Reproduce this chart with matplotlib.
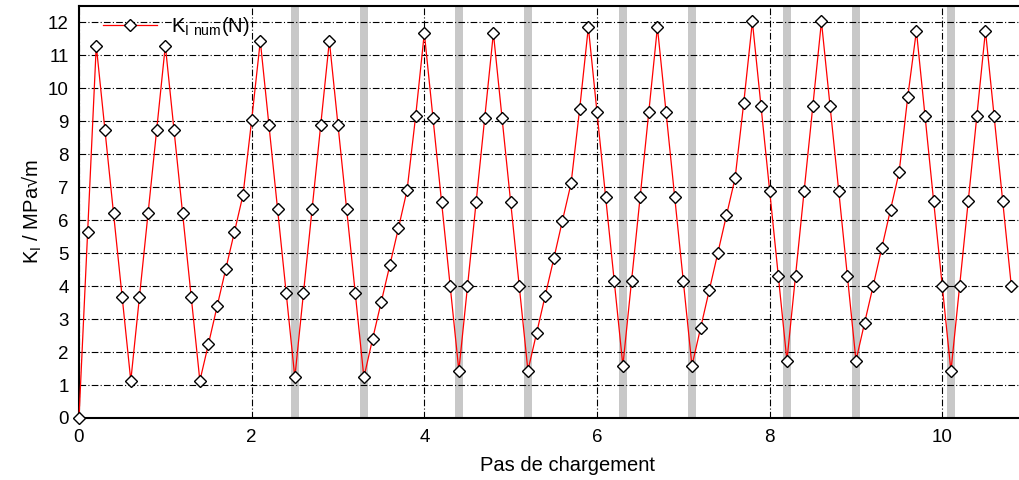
import numpy as np
import matplotlib
matplotlib.use("Agg")
import matplotlib.pyplot as plt

plt.rcParams['font.family'] = ['Liberation Sans', 'DejaVu Sans']

# Loading step (x) and stress intensity factor K_I (y)
steps = [round(0.1 * i, 1) for i in range(109)]
k_values = [
    0.00, 5.64, 11.30, 8.75, 6.21, 3.67, 1.13, 3.67, 6.21, 8.75,
    11.30, 8.75, 6.21, 3.67, 1.13, 2.25, 3.39, 4.52, 5.64, 6.77,
    9.04, 11.44, 8.89, 6.34, 3.79, 1.23, 3.79, 6.34, 8.89, 11.44,
    8.89, 6.34, 3.79, 1.23, 2.39, 3.51, 4.63, 5.76, 6.91, 9.17,
    11.68, 9.11, 6.55, 3.99, 1.44, 3.99, 6.55, 9.11, 11.68, 9.11,
    6.55, 3.99, 1.44, 2.57, 3.71, 4.84, 5.99, 7.12, 9.39, 11.86,
    9.28, 6.71, 4.15, 1.59, 4.15, 6.71, 9.28, 11.86, 9.28, 6.71,
    4.15, 1.59, 2.73, 3.87, 5.01, 6.15, 7.28, 9.56, 12.03, 9.46,
    6.90, 4.32, 1.74, 4.32, 6.90, 9.46, 12.03, 9.46, 6.90, 4.32,
    1.74, 2.89, 4.02, 5.17, 6.32, 7.46, 9.75, 11.75, 9.16, 6.57,
    3.99, 1.42, 3.99, 6.57, 9.16, 11.75, 9.16, 6.57, 3.99,
]

# Shaded steps (grey bands)
band_centers = [2.5, 3.3, 4.4, 5.2, 6.3, 7.1, 8.2, 9.0, 10.1]
band_width = 0.1

x_ticks = [0, 2, 4, 6, 8, 10]
y_ticks = list(range(0, 13))

fig = plt.figure(figsize=(10.2, 4.8), dpi=100)
ax = fig.add_axes([79 / 1020, 1 - 418 / 480, 1 - 79 / 1020, (418 - 6) / 480])

for c in band_centers:
    ax.axvspan(c - band_width / 2, c + band_width / 2, color='#c8c8c8', lw=0, zorder=0)

ax.plot(steps, k_values, color='red', lw=0.9, marker='D', markersize=6,
        markerfacecolor='white', markeredgecolor='black', markeredgewidth=1.0,
        label=r'K$_{\mathregular{I\ num}}$(N)', zorder=3, clip_on=False)

ax.set_xlim(0, 10.9)
ax.set_ylim(0, 12.5)
ax.set_xticks(x_ticks)
ax.set_yticks(y_ticks)
ax.tick_params(axis='x', length=0, labelsize=13.5, pad=8)
ax.tick_params(axis='y', length=0, labelsize=13.5, pad=7.5)

ax.grid(True, color='black', linestyle=(0, (6, 2, 1, 2)), linewidth=0.8, zorder=1)
ax.set_axisbelow(True)

for s in ['left', 'bottom', 'top']:
    ax.spines[s].set_linewidth(1.5)
ax.spines['right'].set_visible(False)

ax.set_xlabel('Pas de chargement', fontsize=14.5)
ax.xaxis.set_label_coords(0.519, -0.093)
ax.set_ylabel(r'K$_{\mathregular{I}}$ / MPa√m', fontsize=14.5, labelpad=3)

leg = ax.legend(loc='center left', bbox_to_anchor=(0.017, 0.951), frameon=False,
                fontsize=14.5, handlelength=2.7, borderaxespad=0, borderpad=0.4,
                handletextpad=0.65)

fig.savefig('out.png', dpi=100)
